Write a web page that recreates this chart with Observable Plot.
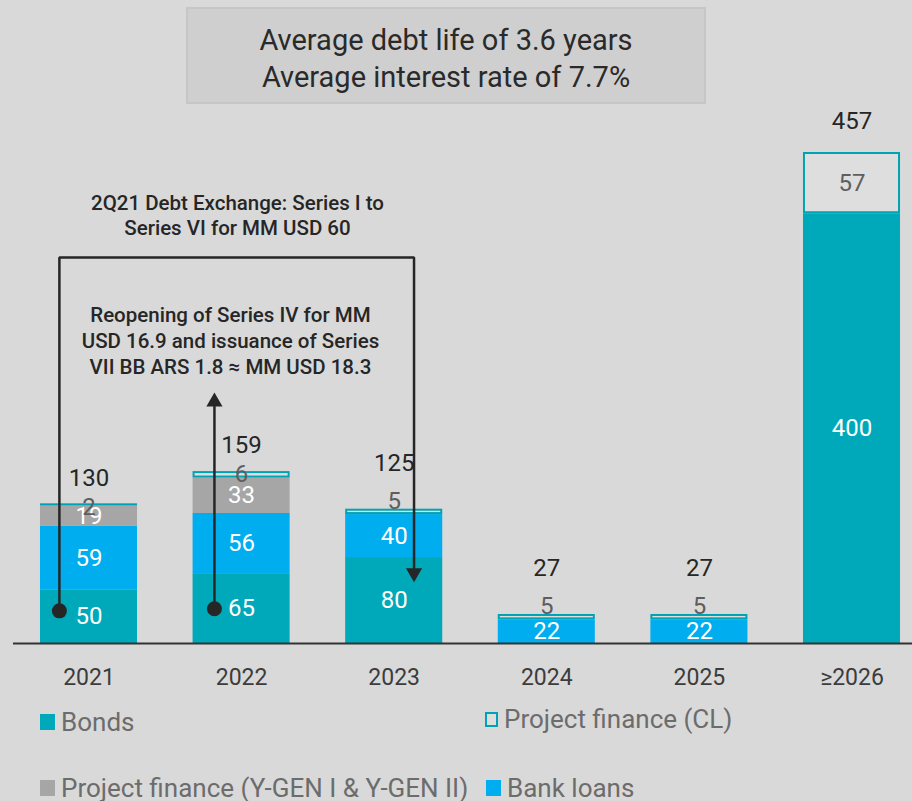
<!DOCTYPE html>
<html>
<head>
<meta charset="utf-8">
<script src="https://cdn.jsdelivr.net/npm/d3@7"></script>
<script src="https://cdn.jsdelivr.net/npm/@observablehq/plot@0.6"></script>
<style>
  html, body { margin: 0; padding: 0; background: #d9d9d9; }
  #wrap { position: relative; width: 912px; height: 801px; background: #d9d9d9; overflow: hidden; font-family: Roboto, sans-serif; }
  #chart { position: absolute; left: 0; top: 0; }
  #titlebox { position: absolute; left: 186px; top: 7px; width: 516px; height: 80px; background: #cfcfcf; border: 2px solid #c6c6c6; text-align: center; color: #2a2a2a; font-size: 29px; line-height: 37px; padding-top: 13px; box-sizing: content-box; }
  #titlebox div { height: 37px; }
  .leg { position: absolute; display: flex; align-items: center; font-size: 26px; color: #6c6c6c; white-space: nowrap; }
  .sw { display: inline-block; width: 15px; height: 16px; margin-right: 6px; box-sizing: border-box; }
</style>
</head>
<body>
<div id="wrap">
  <div id="chart"></div>
  <div id="titlebox"></div>
  <div id="legend"></div>
</div>
<script>
// ---- data ----
const years = ["2021", "2022", "2023", "2024", "2025", "≥2026"];
const bonds = [50, 65, 80, 0, 0, 400];
const bankLoans = [59, 56, 40, 22, 22, 0];
const pfYgen = [19, 33, 0, 0, 0, 0];
const pfCL = [2, 6, 5, 5, 5, 57];
const totals = [130, 159, 125, 27, 27, 457];
const seriesNames = ["Bonds", "Bank loans", "Project finance (Y-GEN I & Y-GEN II)", "Project finance (CL)"];
const seriesColors = ["#00a9b9", "#00adee", "#a6a6a6", "#dedede"];
const clStroke = "#00a3b3";
const titleLines = ["Average debt life of 3.6 years", "Average interest rate of 7.7%"];
const legendOrder = ["Bonds", "Project finance (CL)", "Project finance (Y-GEN I & Y-GEN II)", "Bank loans"];

// annotations (data coordinates: x = year index, y = MM USD)
const exchangeNote = "2Q21 Debt Exchange: Series I to\nSeries VI for MM USD 60";
const exchangeNotePos = {x: 0.973, y: 399};
const exchangePath = [{x: -0.194, y: 30.4}, {x: -0.194, y: 359.3}, {x: 2.13, y: 359.3}, {x: 2.13, y: 70}];
const exchangeHead = {x: 2.13, y: 65.7};
const reopenNote = "Reopening of Series IV for MM\nUSD 16.9 and issuance of Series\nVII BB ARS 1.8 ≈ MM USD 18.3";
const reopenNotePos = {x: 0.927, y: 283};
const reopenPath = [{x: 0.822, y: 32.3}, {x: 0.822, y: 222}];
const reopenHead = {x: 0.822, y: 225};

// ---- build stacked table ----
const seriesValues = [bonds, bankLoans, pfYgen, pfCL];
const rows = [];
years.forEach((yr, i) => {
  let acc = 0;
  seriesValues.forEach((vals, s) => {
    const v = vals[i];
    if (v > 0) rows.push({i, year: yr, series: seriesNames[s], s, value: v, y1: acc, y2: acc + v, hasYgen: pfYgen[i] > 0});
    acc += v;
  });
});
const solidRows = rows.filter(d => d.s < 3);
const clRows = rows.filter(d => d.s === 3);
const totalRows = years.map((yr, i) => ({i, year: yr, total: totals[i], top: bonds[i] + bankLoans[i] + pfYgen[i] + pfCL[i], hasYgen: pfYgen[i] > 0, bigCL: pfCL[i] > 20}));
const half = 0.318;

const ink = "#262626";
const plot = Plot.plot({
  width: 912,
  height: 700,
  marginTop: 0, marginBottom: 0, marginLeft: 0, marginRight: 0,
  style: {background: "transparent", fontFamily: "Roboto, sans-serif"},
  x: {type: "linear", domain: [0, 5], range: [88.5, 851.5], axis: null},
  y: {domain: [0, 457], range: [643, 152], axis: null},
  marks: [
    Plot.rect(solidRows, {x1: d => d.i - half, x2: d => d.i + half, y1: "y1", y2: "y2", fill: d => seriesColors[d.s]}),
    Plot.rect(clRows, {x1: d => d.i - half, x2: d => d.i + half, y1: "y1", y2: "y2", fill: seriesColors[3], stroke: clStroke, strokeWidth: 2, inset: 1}),
    Plot.ruleY([0], {stroke: "#333333", strokeWidth: 2, insetLeft: 13}),
    // labels inside segments
    Plot.text(solidRows, {x: "i", y: d => (d.y1 + d.y2) / 2, text: d => String(d.value), fill: "white", fontSize: 24}),
    Plot.text(clRows.filter(d => d.value > 20), {x: "i", y: d => (d.y1 + d.y2) / 2, text: d => String(d.value), fill: "#5e5e5e", fontSize: 24}),
    Plot.text(clRows.filter(d => d.value <= 20 && d.hasYgen), {x: "i", y: "y2", dy: 3, text: d => String(d.value), fill: "#5e5e5e", fontSize: 24}),
    Plot.text(clRows.filter(d => d.value <= 20 && !d.hasYgen), {x: "i", y: "y2", dy: -8, text: d => String(d.value), fill: "#5e5e5e", fontSize: 24}),
    // totals
    Plot.text(totalRows.filter(d => d.hasYgen), {x: "i", y: "top", dy: -26, text: d => String(d.total), fill: ink, fontSize: 24}),
    Plot.text(totalRows.filter(d => d.bigCL), {x: "i", y: "top", dy: -31, text: d => String(d.total), fill: ink, fontSize: 24}),
    Plot.text(totalRows.filter(d => !d.hasYgen && !d.bigCL), {x: "i", y: "top", dy: -46, text: d => String(d.total), fill: ink, fontSize: 24}),
    // x tick labels
    Plot.text(totalRows, {x: "i", y: 0, dy: 34, text: "year", fill: "#3c3c3c", fontSize: 23}),
    // annotations
    Plot.line(exchangePath, {x: "x", y: "y", stroke: ink, strokeWidth: 2.5, strokeLinejoin: "miter"}),
    Plot.dot([exchangePath[0]], {x: "x", y: "y", r: 7.5, fill: ink}),
    Plot.dot([exchangeHead], {x: "x", y: "y", symbol: "triangle", rotate: 180, r: 6, fill: ink}),
    Plot.line(reopenPath, {x: "x", y: "y", stroke: ink, strokeWidth: 2.5}),
    Plot.dot([reopenPath[0]], {x: "x", y: "y", r: 7.5, fill: ink}),
    Plot.dot([reopenHead], {x: "x", y: "y", symbol: "triangle", rotate: 0, r: 6, fill: ink}),
    Plot.text([exchangeNote], {x: exchangeNotePos.x, y: exchangeNotePos.y, text: d => d, fill: ink, fontSize: 20.5, fontWeight: 500, lineHeight: 1.22}),
    Plot.text([reopenNote], {x: reopenNotePos.x, y: reopenNotePos.y, text: d => d, fill: ink, fontSize: 20.5, fontWeight: 500, lineHeight: 1.27})
  ]
});
document.getElementById("chart").appendChild(plot);

// title box
const tb = document.getElementById("titlebox");
titleLines.forEach(t => { const d = document.createElement("div"); d.textContent = t; tb.appendChild(d); });

// legend
const legPos = {
  "Bonds": {left: 40, top: 707},
  "Project finance (CL)": {left: 485, top: 704},
  "Project finance (Y-GEN I & Y-GEN II)": {left: 40, top: 773},
  "Bank loans": {left: 486, top: 773}
};
const legend = document.getElementById("legend");
legendOrder.forEach(name => {
  const s = seriesNames.indexOf(name);
  const item = document.createElement("div");
  item.className = "leg";
  item.style.left = legPos[name].left + "px";
  item.style.top = legPos[name].top + "px";
  const sw = document.createElement("span");
  sw.className = "sw";
  if (s === 3) {
    sw.style.width = "13px"; sw.style.height = "15px";
    sw.style.border = "2px solid " + clStroke;
    sw.style.background = seriesColors[3];
  } else {
    sw.style.background = seriesColors[s];
  }
  const tx = document.createElement("span");
  tx.textContent = name;
  item.appendChild(sw); item.appendChild(tx);
  legend.appendChild(item);
});
</script>
</body>
</html>
